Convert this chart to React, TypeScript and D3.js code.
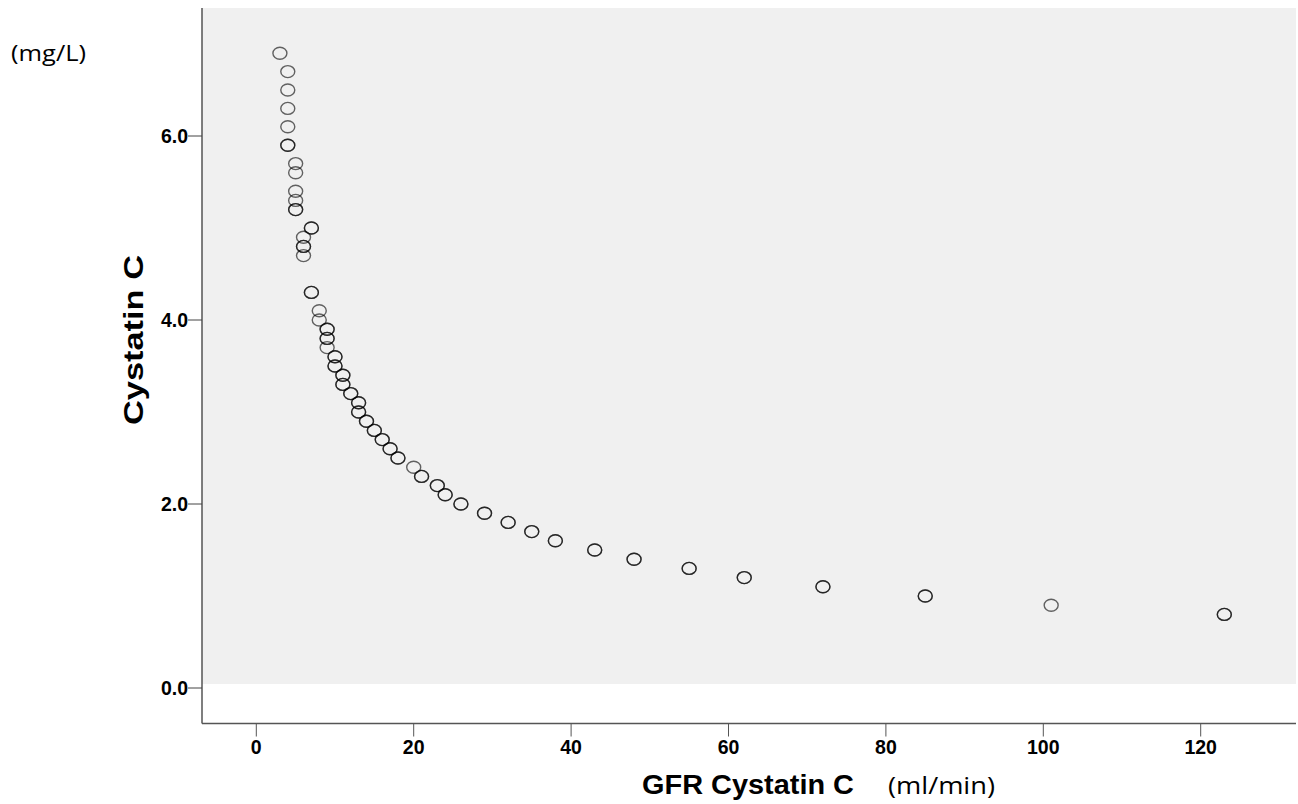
import React from "react";
import * as d3 from "d3";

// Each case (duplicates are repeated, they overlap and look darker)
const gfr = [
  3, 4, 4, 4, 4, 4, 4,
  5, 5, 5, 5, 5, 5,
  7, 7, 6, 6, 6, 6,
  7, 7, 8, 8, 9, 9, 9, 9, 9,
  10, 10, 10, 10, 11, 11, 11, 11, 12, 12, 13, 13, 13, 13,
  14, 14, 15, 15, 16, 16, 17, 17, 18, 18,
  20, 21, 21, 23, 23, 24, 24, 26, 26, 29, 29, 32, 32, 35, 35, 38, 38,
  43, 43, 48, 48, 55, 55, 62, 62, 72, 72, 85, 85, 101, 123, 123,
];
const cystatin = [
  6.9, 6.7, 6.5, 6.3, 6.1, 5.9, 5.9,
  5.7, 5.6, 5.4, 5.3, 5.2, 5.2,
  5.0, 5.0, 4.9, 4.8, 4.8, 4.7,
  4.3, 4.3, 4.1, 4.0, 3.9, 3.9, 3.8, 3.8, 3.7,
  3.6, 3.6, 3.5, 3.5, 3.4, 3.4, 3.3, 3.3, 3.2, 3.2, 3.1, 3.1, 3.0, 3.0,
  2.9, 2.9, 2.8, 2.8, 2.7, 2.7, 2.6, 2.6, 2.5, 2.5,
  2.4, 2.3, 2.3, 2.2, 2.2, 2.1, 2.1, 2.0, 2.0, 1.9, 1.9, 1.8, 1.8, 1.7, 1.7, 1.6, 1.6,
  1.5, 1.5, 1.4, 1.4, 1.3, 1.3, 1.2, 1.2, 1.1, 1.1, 1.0, 1.0, 0.9, 0.8, 0.8,
];
const xTicks = [0, 20, 40, 60, 80, 100, 120];
const yTicks = [0, 2, 4, 6];

const W = 1298;
const H = 804;

export default function App() {
  const x = d3.scaleLinear().domain([0, 120]).range([256.3, 1200.7]);
  const y = d3.scaleLinear().domain([0, 6]).range([688, 136]);
  const left = 202;
  const right = 1296;
  const top = 8;
  const axisY = 723.5;
  const greyBottom = 684;
  const tickFont = "'Liberation Sans', Arial, sans-serif";
  const pts = gfr.map((g, i) => ({ g, c: cystatin[i] }));

  return (
    <svg
      width={W}
      height={H}
      style={{ position: "absolute", left: 0, top: 0, background: "#fff" }}
    >
      <rect x={left} y={top} width={right - left} height={greyBottom - top} fill="#f0f0f0" />
      {/* axes */}
      <line x1={left} x2={left} y1={top} y2={axisY} stroke="#555" strokeWidth={1.5} />
      <line x1={left} x2={right} y1={axisY} y2={axisY} stroke="#555" strokeWidth={1.5} />
      {yTicks.map((t) => (
        <g key={"y" + t}>
          <line x1={left - 14} x2={left} y1={y(t)} y2={y(t)} stroke="#444" strokeWidth={1} />
          <text
            x={left - 14}
            y={y(t) + 7}
            textAnchor="end"
            fontFamily={tickFont}
            fontWeight="bold"
            fontSize={19.5}
            fill="#000"
          >
            {d3.format(".1f")(t)}
          </text>
        </g>
      ))}
      {xTicks.map((t) => (
        <g key={"x" + t}>
          <line x1={x(t)} x2={x(t)} y1={axisY} y2={axisY + 13} stroke="#555" strokeWidth={1} />
          <text
            x={x(t)}
            y={754}
            textAnchor="middle"
            fontFamily={tickFont}
            fontWeight="bold"
            fontSize={19.5}
            fill="#000"
          >
            {t}
          </text>
        </g>
      ))}
      {/* points */}
      {pts.map((p, i) => (
        <ellipse
          key={i}
          cx={x(p.g)}
          cy={y(p.c)}
          rx={7}
          ry={6}
          fill="none"
          stroke="#000"
          strokeOpacity={0.6}
          strokeWidth={1.4}
        />
      ))}
      {/* titles */}
      <text
        x={642}
        y={794}
        textLength={212}
        lengthAdjust="spacingAndGlyphs"
        fontFamily={tickFont}
        fontWeight="bold"
        fontSize={27}
        fill="#000"
      >
        GFR Cystatin C
      </text>
      <text x={888} y={794} fontFamily="'Open Sans', sans-serif" fontSize={24} textLength={107} lengthAdjust="spacingAndGlyphs" fill="#000">
        (ml/min)
      </text>
      <text
        transform={`translate(143,425) rotate(-90)`}
        textLength={170}
        lengthAdjust="spacingAndGlyphs"
        fontFamily={tickFont}
        fontWeight="bold"
        fontSize={27}
        fill="#000"
      >
        Cystatin C
      </text>
      <text x={11} y={61} fontFamily="'Open Sans', sans-serif" fontSize={22} textLength={75} lengthAdjust="spacingAndGlyphs" fill="#000">
        (mg/L)
      </text>
    </svg>
  );
}
